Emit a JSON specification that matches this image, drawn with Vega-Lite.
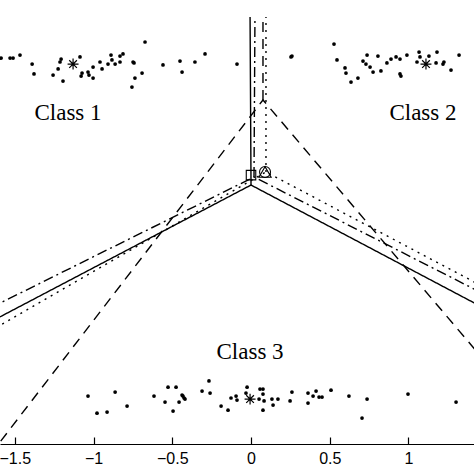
{
  "$schema": "https://vega.github.io/schema/vega-lite/v6.json",
  "autosize": "none",
  "padding": {"left": 0, "top": 0, "right": 0, "bottom": 30},
  "width": 474,
  "height": 444,
  "background": "white",
  "config": {"view": {"stroke": null}},
  "datasets": {
    "pts": [
      {"cls": 1, "x": -1.587, "y": 0.806}, {"cls": 1, "x": -1.530, "y": 0.806}, {"cls": 1, "x": -1.511, "y": 0.806},
      {"cls": 1, "x": -1.467, "y": 0.825}, {"cls": 1, "x": -1.390, "y": 0.768}, {"cls": 1, "x": -1.378, "y": 0.705},
      {"cls": 1, "x": -1.257, "y": 0.698}, {"cls": 1, "x": -1.225, "y": 0.737}, {"cls": 1, "x": -1.206, "y": 0.800},
      {"cls": 1, "x": -1.213, "y": 0.781}, {"cls": 1, "x": -1.194, "y": 0.660}, {"cls": 1, "x": -1.086, "y": 0.813},
      {"cls": 1, "x": -1.073, "y": 0.711}, {"cls": 1, "x": -1.079, "y": 0.692}, {"cls": 1, "x": -1.035, "y": 0.717},
      {"cls": 1, "x": -1.029, "y": 0.698}, {"cls": 1, "x": -1.003, "y": 0.679}, {"cls": 1, "x": -1.003, "y": 0.749},
      {"cls": 1, "x": -0.959, "y": 0.781}, {"cls": 1, "x": -0.946, "y": 0.737}, {"cls": 1, "x": -0.908, "y": 0.768},
      {"cls": 1, "x": -0.889, "y": 0.825}, {"cls": 1, "x": -0.883, "y": 0.794}, {"cls": 1, "x": -0.863, "y": 0.768},
      {"cls": 1, "x": -0.832, "y": 0.781}, {"cls": 1, "x": -0.832, "y": 0.819}, {"cls": 1, "x": -0.813, "y": 0.832},
      {"cls": 1, "x": -0.749, "y": 0.781}, {"cls": 1, "x": -0.743, "y": 0.775}, {"cls": 1, "x": -0.673, "y": 0.908},
      {"cls": 1, "x": -0.692, "y": 0.711}, {"cls": 1, "x": -0.737, "y": 0.679}, {"cls": 1, "x": -0.756, "y": 0.622},
      {"cls": 1, "x": -0.559, "y": 0.762}, {"cls": 1, "x": -0.451, "y": 0.787}, {"cls": 1, "x": -0.438, "y": 0.717},
      {"cls": 1, "x": -0.356, "y": 0.781}, {"cls": 1, "x": -0.292, "y": 0.832}, {"cls": 1, "x": -0.089, "y": 0.768},
      {"cls": 2, "x": 0.527, "y": 0.895}, {"cls": 2, "x": 0.254, "y": 0.813}, {"cls": 2, "x": 0.260, "y": 0.819},
      {"cls": 2, "x": 0.546, "y": 0.794}, {"cls": 2, "x": 0.597, "y": 0.743}, {"cls": 2, "x": 0.603, "y": 0.711},
      {"cls": 2, "x": 0.635, "y": 0.654}, {"cls": 2, "x": 0.679, "y": 0.679}, {"cls": 2, "x": 0.737, "y": 0.825},
      {"cls": 2, "x": 0.711, "y": 0.787}, {"cls": 2, "x": 0.730, "y": 0.768}, {"cls": 2, "x": 0.756, "y": 0.749},
      {"cls": 2, "x": 0.775, "y": 0.717}, {"cls": 2, "x": 0.806, "y": 0.819}, {"cls": 2, "x": 0.825, "y": 0.724},
      {"cls": 2, "x": 0.863, "y": 0.775}, {"cls": 2, "x": 0.889, "y": 0.800}, {"cls": 2, "x": 0.921, "y": 0.813},
      {"cls": 2, "x": 0.946, "y": 0.800}, {"cls": 2, "x": 0.946, "y": 0.705}, {"cls": 2, "x": 0.952, "y": 0.692},
      {"cls": 2, "x": 0.990, "y": 0.825}, {"cls": 2, "x": 1.067, "y": 0.844}, {"cls": 2, "x": 1.054, "y": 0.781},
      {"cls": 2, "x": 1.073, "y": 0.813}, {"cls": 2, "x": 1.130, "y": 0.819}, {"cls": 2, "x": 1.181, "y": 0.844},
      {"cls": 2, "x": 1.175, "y": 0.775}, {"cls": 2, "x": 1.219, "y": 0.768}, {"cls": 2, "x": 1.225, "y": 0.781},
      {"cls": 2, "x": 1.270, "y": 0.730}, {"cls": 2, "x": 1.321, "y": 0.825},
      {"cls": 3, "x": -1.035, "y": -1.340}, {"cls": 3, "x": -0.978, "y": -1.448}, {"cls": 3, "x": -0.914, "y": -1.441},
      {"cls": 3, "x": -0.863, "y": -1.314}, {"cls": 3, "x": -0.787, "y": -1.403}, {"cls": 3, "x": -0.616, "y": -1.340},
      {"cls": 3, "x": -0.546, "y": -1.378}, {"cls": 3, "x": -0.527, "y": -1.283}, {"cls": 3, "x": -0.495, "y": -1.435},
      {"cls": 3, "x": -0.476, "y": -1.283}, {"cls": 3, "x": -0.457, "y": -1.378}, {"cls": 3, "x": -0.438, "y": -1.333},
      {"cls": 3, "x": -0.432, "y": -1.340}, {"cls": 3, "x": -0.425, "y": -1.352}, {"cls": 3, "x": -0.419, "y": -1.359},
      {"cls": 3, "x": -0.311, "y": -1.308}, {"cls": 3, "x": -0.267, "y": -1.244}, {"cls": 3, "x": -0.260, "y": -1.321},
      {"cls": 3, "x": -0.190, "y": -1.403}, {"cls": 3, "x": -0.146, "y": -1.429}, {"cls": 3, "x": -0.127, "y": -1.352},
      {"cls": 3, "x": -0.095, "y": -1.340}, {"cls": 3, "x": -0.089, "y": -1.365}, {"cls": 3, "x": -0.025, "y": -1.283},
      {"cls": 3, "x": -0.032, "y": -1.321}, {"cls": 3, "x": 0.051, "y": -1.359}, {"cls": 3, "x": 0.057, "y": -1.295},
      {"cls": 3, "x": 0.076, "y": -1.295}, {"cls": 3, "x": 0.076, "y": -1.327}, {"cls": 3, "x": 0.083, "y": -1.371},
      {"cls": 3, "x": 0.076, "y": -1.429}, {"cls": 3, "x": 0.133, "y": -1.359}, {"cls": 3, "x": 0.140, "y": -1.397},
      {"cls": 3, "x": 0.171, "y": -1.359}, {"cls": 3, "x": 0.248, "y": -1.371}, {"cls": 3, "x": 0.260, "y": -1.314},
      {"cls": 3, "x": 0.362, "y": -1.321}, {"cls": 3, "x": 0.362, "y": -1.384}, {"cls": 3, "x": 0.394, "y": -1.340},
      {"cls": 3, "x": 0.413, "y": -1.308}, {"cls": 3, "x": 0.432, "y": -1.346}, {"cls": 3, "x": 0.451, "y": -1.346},
      {"cls": 3, "x": 0.508, "y": -1.302}, {"cls": 3, "x": 0.622, "y": -1.340}, {"cls": 3, "x": 0.705, "y": -1.479},
      {"cls": 3, "x": 0.737, "y": -1.359}, {"cls": 3, "x": 0.997, "y": -1.327}, {"cls": 3, "x": 1.302, "y": -1.378}
    ],
    "means": [
      {"cls": 1, "x": -1.130, "y": 0.768},
      {"cls": 2, "x": 1.111, "y": 0.768},
      {"cls": 3, "x": -0.006, "y": -1.359}
    ],
    "lines": [
      {"style": "solid", "seg": "s1", "o": 1, "x": -1.657, "y": -0.870},
      {"style": "solid", "seg": "s1", "o": 2, "x": 0.0, "y": 0.0},
      {"style": "solid", "seg": "s1", "o": 3, "x": 1.479, "y": -0.781},
      {"style": "solid", "seg": "s2", "o": 1, "x": 0.0, "y": 0.0},
      {"style": "solid", "seg": "s2", "o": 2, "x": -0.006, "y": 1.067},
      {"style": "dashdot", "seg": "d1", "o": 1, "x": -1.657, "y": -0.781},
      {"style": "dashdot", "seg": "d1", "o": 2, "x": 0.019, "y": 0.051},
      {"style": "dashdot", "seg": "d1", "o": 3, "x": 1.479, "y": -0.692},
      {"style": "dashdot", "seg": "d2", "o": 1, "x": 0.019, "y": 0.051},
      {"style": "dashdot", "seg": "d2", "o": 2, "x": 0.025, "y": 1.067},
      {"style": "dotted", "seg": "p1", "o": 1, "x": -1.657, "y": -0.927},
      {"style": "dotted", "seg": "p1", "o": 2, "x": 0.095, "y": 0.083},
      {"style": "dotted", "seg": "p1", "o": 3, "x": 1.479, "y": -0.648},
      {"style": "dotted", "seg": "p2", "o": 1, "x": 0.095, "y": 0.083},
      {"style": "dotted", "seg": "p2", "o": 2, "x": 0.095, "y": 1.067},
      {"style": "dashed", "seg": "q1", "o": 1, "x": -1.721, "y": -1.797},
      {"style": "dashed", "seg": "q1", "o": 2, "x": 0.076, "y": 0.540},
      {"style": "dashed", "seg": "q1", "o": 3, "x": 1.479, "y": -1.111},
      {"style": "dashed", "seg": "q2", "o": 1, "x": 0.076, "y": 0.540},
      {"style": "dashed", "seg": "q2", "o": 2, "x": 0.076, "y": 1.067}
    ],
    "markers": [
      {"m": "square", "x": 0.0, "y": 0.063},
      {"m": "circle", "x": 0.089, "y": 0.083},
      {"m": "triangle", "x": 0.089, "y": 0.083}
    ],
    "labels": [
      {"t": "Class 1", "x": -1.162, "y": 0.457},
      {"t": "Class 2", "x": 1.092, "y": 0.457},
      {"t": "Class 3", "x": -0.006, "y": -1.060}
    ]
  },
  "encoding": {
    "x": {"field": "x", "type": "quantitative",
      "scale": {"domain": [-1.594, 1.416], "nice": false, "zero": false},
      "axis": {"title": null, "values": [-1.5, -1, -0.5, 0, 0.5, 1], "format": "~g",
        "grid": false, "domainColor": "black", "domainWidth": 1.2, "tickColor": "black",
        "tickSize": -7, "tickWidth": 1.2, "labelPadding": 13, "labelFontSize": 16,
        "labelFont": "Liberation Sans", "labelColor": "black", "labelFlush": false, "labelOverlap": false}},
    "y": {"field": "y", "type": "quantitative",
      "scale": {"domain": [-1.644, 1.1746], "nice": false, "zero": false}, "axis": null}
  },
  "layer": [
    {
      "data": {"name": "lines"},
      "mark": {"type": "line", "color": "black", "strokeWidth": 1.4, "clip": true},
      "encoding": {
        "detail": {"field": "seg"},
        "order": {"field": "o", "type": "quantitative"},
        "strokeDash": {"field": "style", "type": "nominal",
          "scale": {"domain": ["solid", "dashed", "dashdot", "dotted"],
            "range": [[1, 0], [10, 7], [10, 4, 2, 4], [2, 5]]}, "legend": null}
      }
    },
    {
      "data": {"name": "pts"},
      "mark": {"type": "point", "shape": "circle", "filled": true, "color": "black", "size": 14, "opacity": 1}
    },
    {
      "data": {"name": "means"},
      "mark": {"type": "point", "shape": "M-1,0L1,0M0,-1L0,1M-0.7,-0.7L0.7,0.7M-0.7,0.7L0.7,-0.7",
        "filled": false, "color": "black", "size": 120, "strokeWidth": 1.2, "opacity": 1}
    },
    {
      "data": {"name": "markers"},
      "mark": {"type": "point", "filled": false, "color": "black", "strokeWidth": 1.1, "opacity": 1},
      "encoding": {
        "shape": {"field": "m", "type": "nominal",
          "scale": {"domain": ["square", "circle", "triangle"], "range": ["square", "circle", "triangle-up"]}, "legend": null},
        "size": {"field": "m", "type": "nominal",
          "scale": {"domain": ["square", "circle", "triangle"], "range": [90, 150, 50]}, "legend": null}
      }
    },
    {
      "data": {"name": "labels"},
      "mark": {"type": "text", "font": "Liberation Serif", "fontSize": 23, "color": "black", "align": "center", "baseline": "middle"},
      "encoding": {"text": {"field": "t"}}
    }
  ]
}
